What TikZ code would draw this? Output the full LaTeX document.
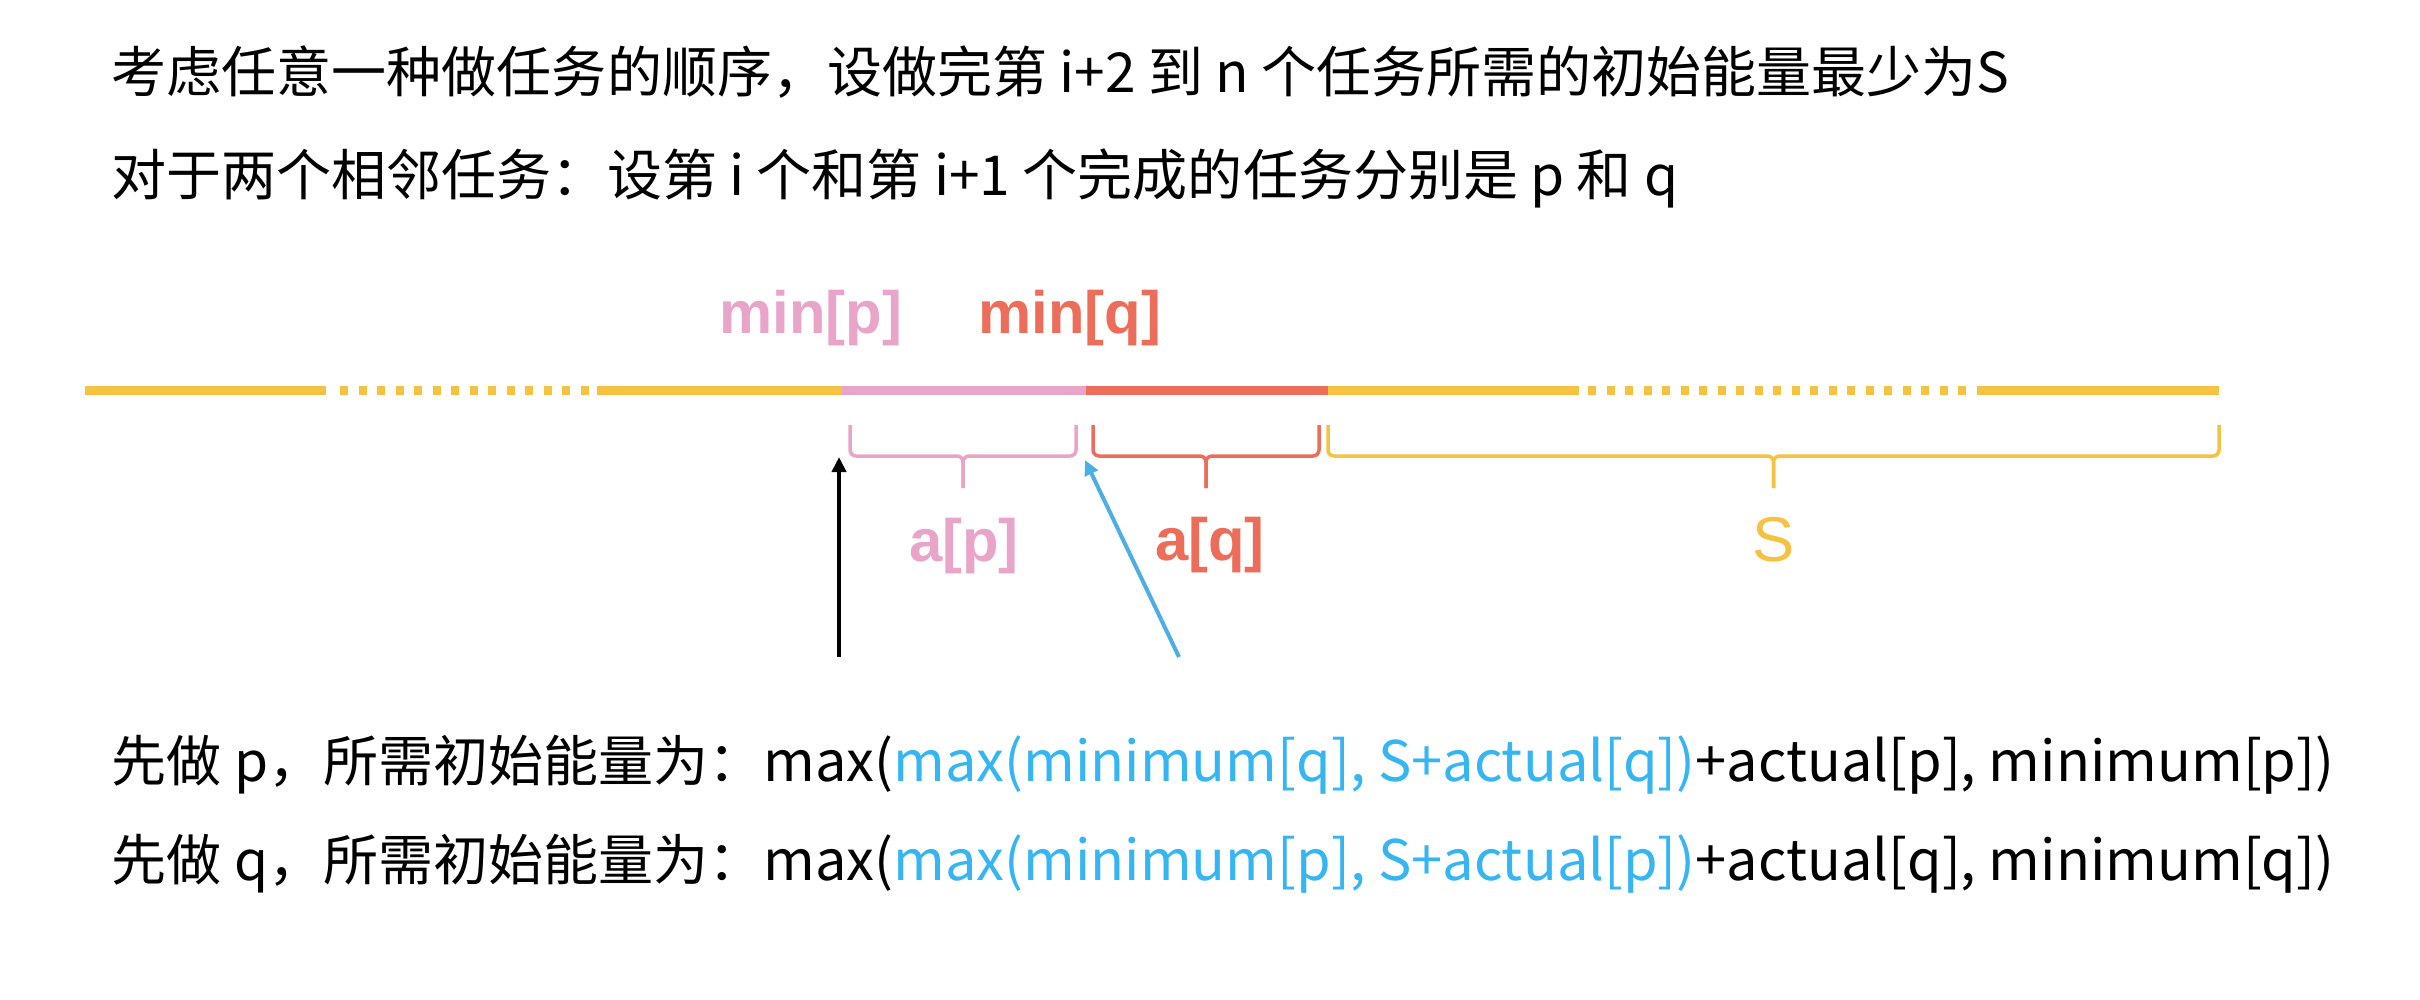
\documentclass[tikz,border=0pt]{standalone}
\usepackage{fontspec}
\setmainfont{Noto Sans CJK SC}
\newfontfamily\labelfont{Liberation Sans}
\usetikzlibrary{arrows.meta}
\definecolor{barYellow}{HTML}{F5C242}
\definecolor{barPink}{HTML}{E8A5C9}
\definecolor{barRed}{HTML}{EC6E5A}
\definecolor{arrowBlue}{HTML}{4DAEE3}
\definecolor{textBlue}{HTML}{35B5F2}

\begin{document}
\begin{tikzpicture}[x=0.01cm, y=-0.01cm,
  seg/.style={line width=0.09cm},
  gap/.style={line width=0.09cm, dash pattern=on 0.08cm off 0.105cm},
  brace/.style={line width=0.035cm, rounded corners=0.06cm},
  lbl/.style={inner sep=0pt, font=\labelfont\bfseries\fontsize{17pt}{17pt}\selectfont},
  txt/.style={anchor=base west, inner sep=0pt, font=\fontsize{15.65pt}{18pt}\selectfont},
  pointer/.style={line width=0.04cm, -{Triangle[length=0.15cm,width=0.14cm]}}]

\useasboundingbox (0,0) rectangle (2420,1000);

% text on top
\node[txt] (t1) at (111,93) {考虑任意一种做任务的顺序，设做完第 i+2 到 n 个任务所需的初始能量最少为S};
\node[txt] (t2) at (111,195) {对于两个相邻任务：设第 i 个和第 i+1 个完成的任务分别是 p 和 q};

% the bar
\coordinate (b0) at (85,390);
\coordinate (b1) at (326,390);
\coordinate (b2) at (340,390);
\coordinate (b3) at (597,390);
\coordinate (b4) at (842,390);
\coordinate (b5) at (1086,390);
\coordinate (b6) at (1328,390);
\coordinate (b7) at (1579,390);
\coordinate (b8) at (1588,390);
\coordinate (b9) at (1978,390);
\coordinate (b10) at (2219,390);

\draw[seg, barYellow] (b0) -- (b1);
\draw[gap, barYellow] (b2) -- (b3);
\draw[seg, barYellow] (b3) -- (b4);
\draw[seg, barPink] (b4) -- (b5);
\draw[seg, barRed] (b5) -- (b6);
\draw[seg, barYellow] (b6) -- (b7);
\draw[gap, barYellow] (b8) -- (b9);
\draw[seg, barYellow] (b9) -- (b10);

\node[lbl, barPink] (minp) at (811,318) {min[p]};
\node[lbl, barRed] (minq) at (1070,318) {min[q]};

% braces under the bar
\foreach \xa/\xb/\c in {850/1076/barPink, 1093/1319/barRed, 1328/2219/barYellow} {
  \pgfmathsetmacro\xm{(\xa+\xb)/2}
  \draw[brace, \c] (\xa,425) -- (\xa,456) -- (\xm,456) -- (\xm,488);
  \draw[brace, \c] (\xb,425) -- (\xb,456) -- (\xm,456) -- (\xm,488);
}

\node[lbl, barPink] (ap) at (964,546) {a[p]};
\node[lbl, barRed] (aq) at (1210,545) {a[q]};
\node[lbl, barYellow, font=\labelfont\fontsize{18pt}{18pt}\selectfont] (s) at (1774,540) {S};

% arrows
\coordinate (up0) at (839,657);
\coordinate (up1) at (839,457);
\coordinate (bl0) at (1179,657);
\coordinate (bl1) at (1085,460);
\draw[pointer] (up0) -- (up1);
\draw[pointer, arrowBlue] (bl0) -- (bl1);

% the two formulas
\node[txt] (f1) at (111,781) {先做 p，所需初始能量为：{\fontsize{15.9pt}{18pt}\selectfont max(\textcolor{textBlue}{max(minimum[q], S+actual[q])}+actual[p], minimum[p])}};
\node[txt] (f2) at (111,880) {先做 q，所需初始能量为：{\fontsize{15.9pt}{18pt}\selectfont max(\textcolor{textBlue}{max(minimum[p], S+actual[p])}+actual[q], minimum[q])}};

\end{tikzpicture}
\end{document}
